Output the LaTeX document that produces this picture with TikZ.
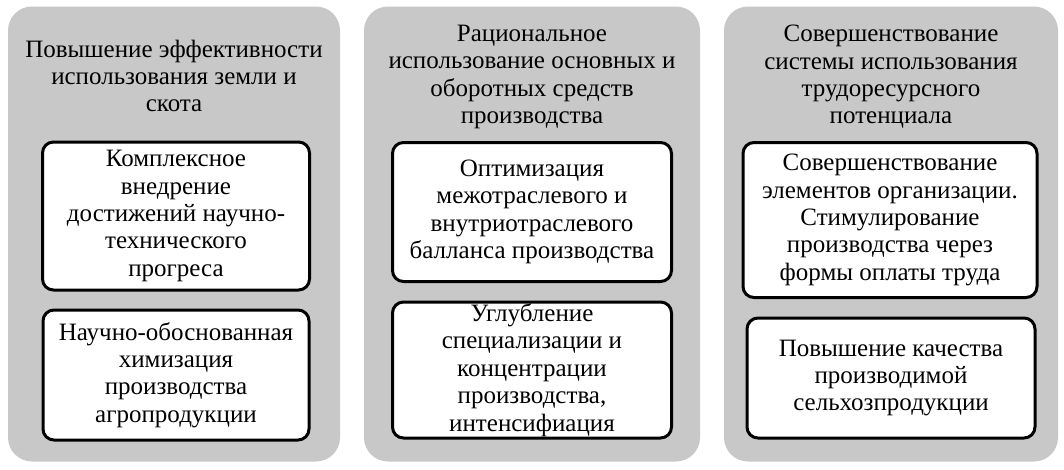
\documentclass[tikz,border=0pt]{standalone}
\usepackage{fontspec}
\setmainfont{Liberation Serif}
\definecolor{panelgray}{RGB}{200,200,200}
\begin{document}
\begin{tikzpicture}[x=1pt,y=-1pt,
  panel/.style={fill=panelgray, draw=none, rounded corners=24pt, inner sep=0pt},
  itembox/.style={fill=white, draw=black, line width=3pt, rounded corners=11pt, inner sep=0pt},
  txt/.style={align=center, font=\fontsize{25}{27.4}\selectfont, inner sep=0pt}]
\useasboundingbox (0,0) rectangle (1064,469);
% panels
\node[panel, minimum width=332pt, minimum height=455pt] (p1) at (174,234) {};
\node[panel, minimum width=336pt, minimum height=455pt] (p2) at (532,234) {};
\node[panel, minimum width=334pt, minimum height=455pt] (p3) at (891,234) {};
% titles
\node[txt] (t1) at (174,76) {Повышение эффективности\\использования земли и\\скота};
\node[txt] (t2) at (532,77) {Рациональное\\использование основных и\\оборотных средств\\производства};
\node[txt] (t3) at (891,77) {Совершенствование\\системы использования\\трудоресурсного\\потенциала};
% boxes panel 1
\node[itembox, minimum width=267pt, minimum height=148pt] (b11) at (176,216) {};
\node[txt] (x11) at (b11) {Комплексное\\внедрение\\достижений научно-\\технического\\прогреса};
\node[itembox, minimum width=266pt, minimum height=130pt] (b12) at (176,375) {};
\node[txt] (x12) at (b12) {Научно-обоснованная\\химизация\\производства\\агропродукции};
% boxes panel 2
\node[itembox, minimum width=279pt, minimum height=139pt] (b21) at (532,212) {};
\node[txt] (x21) at (b21) {Оптимизация\\межотраслевого и\\внутриотраслевого\\балланса производства};
\node[itembox, minimum width=279pt, minimum height=136pt] (b22) at (532,370) {};
\node[txt] (x22) at (b22) {Углубление\\специализации и\\концентрации\\производства,\\интенсифиация};
% boxes panel 3
\node[itembox, minimum width=294pt, minimum height=155pt] (b31) at (890,220) {};
\node[txt] (x31) at (b31) {Совершенствование\\элементов организации.\\Стимулирование\\производства через\\формы оплаты труда};
\node[itembox, minimum width=288pt, minimum height=120pt] (b32) at (891,378) {};
\node[txt] (x32) at (b32) {Повышение качества\\производимой\\сельхозпродукции};
\end{tikzpicture}
\end{document}
